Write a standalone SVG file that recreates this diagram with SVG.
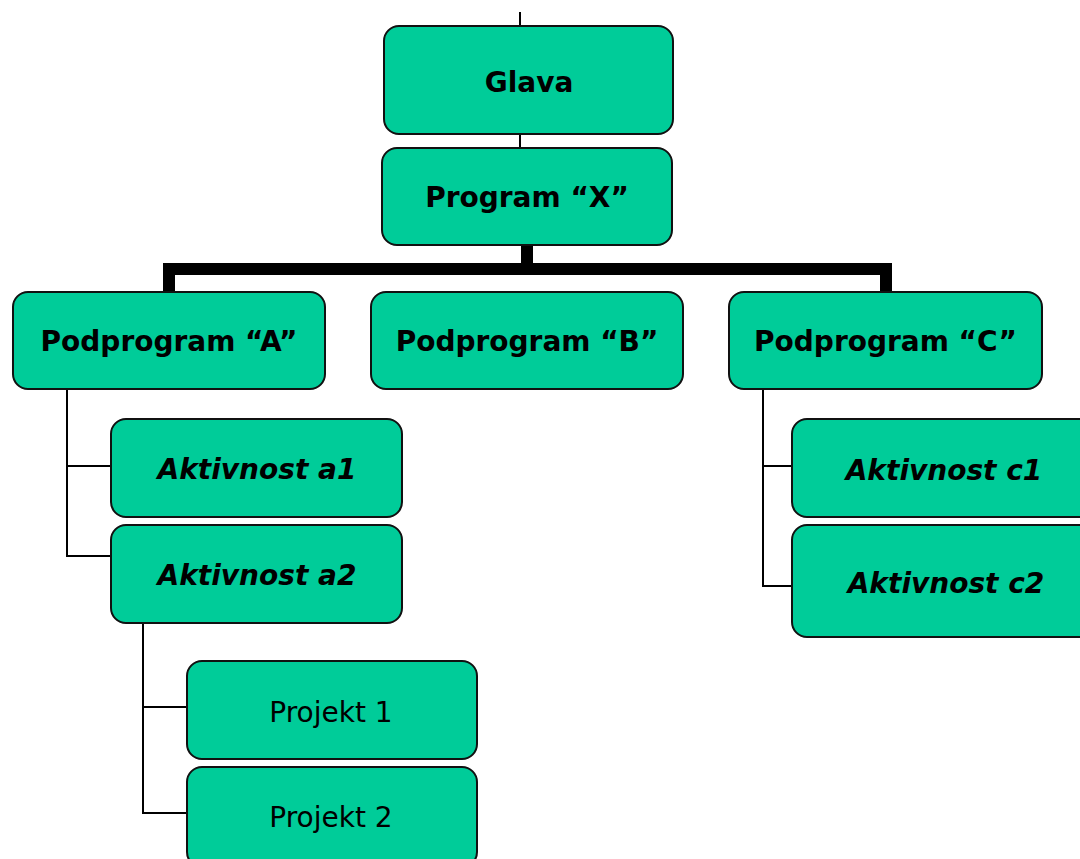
<svg xmlns="http://www.w3.org/2000/svg" width="1080" height="859" viewBox="0 0 1080 859">
<style>
.box{fill:#00CC99;stroke:#111;stroke-width:2}
.t{font-family:"DejaVu Sans",Verdana,sans-serif;font-size:28px;fill:#000;text-anchor:middle}
.b{font-weight:bold}
.bi{font-weight:bold;font-style:italic}
.thin{fill:none;stroke:#000;stroke-width:2}
.thick{fill:none;stroke:#000;stroke-width:12}
</style>
<rect width="1080" height="859" fill="#fff"/>
<g id="connectors">
<line class="thin" x1="520" y1="12" x2="520" y2="27"/>
<line class="thin" x1="520" y1="133" x2="520" y2="149"/>
<path class="thick" d="M527 245 V269 M169 292 V269 H886 V292"/>
<path class="thin" d="M67 389 V556 H112 M67 466 H112"/>
<path class="thin" d="M143 617 V813 H188 M143 707 H188"/>
<path class="thin" d="M763 389 V586 H793 M763 466 H793"/>
</g>
<g id="glava"><rect class="box" x="384" y="26" width="289" height="108" rx="15"/><text class="t b" x="529" y="92">Glava</text></g>
<g id="program-x"><rect class="box" x="382" y="148" width="290" height="97" rx="15"/><text class="t b" x="527" y="207">Program “X”</text></g>
<g id="podprogram-a"><rect class="box" x="13" y="292" width="312" height="97" rx="15"/><text class="t b" x="169" y="351">Podprogram “A”</text></g>
<g id="podprogram-b"><rect class="box" x="371" y="292" width="312" height="97" rx="15"/><text class="t b" x="527" y="351">Podprogram “B”</text></g>
<g id="podprogram-c"><rect class="box" x="729" y="292" width="313" height="97" rx="15"/><text class="t b" x="885.5" y="351">Podprogram “C”</text></g>
<g id="aktivnost-a1"><rect class="box" x="111" y="419" width="291" height="98" rx="15"/><text class="t bi" x="257" y="479">Aktivnost a1</text></g>
<g id="aktivnost-a2"><rect class="box" x="111" y="525" width="291" height="98" rx="15"/><text class="t bi" x="257" y="585">Aktivnost a2</text></g>
<g id="aktivnost-c1"><rect class="box" x="792" y="419" width="304" height="98" rx="15"/><text class="t bi" x="944" y="480">Aktivnost c1</text></g>
<g id="aktivnost-c2"><rect class="box" x="792" y="525" width="304" height="112" rx="15"/><text class="t bi" x="946" y="593">Aktivnost c2</text></g>
<g id="projekt-1"><rect class="box" x="187" y="661" width="290" height="98" rx="15"/><text class="t" x="331" y="722">Projekt 1</text></g>
<g id="projekt-2"><rect class="box" x="187" y="767" width="290" height="100" rx="15"/><text class="t" x="331" y="827">Projekt 2</text></g>
</svg>
